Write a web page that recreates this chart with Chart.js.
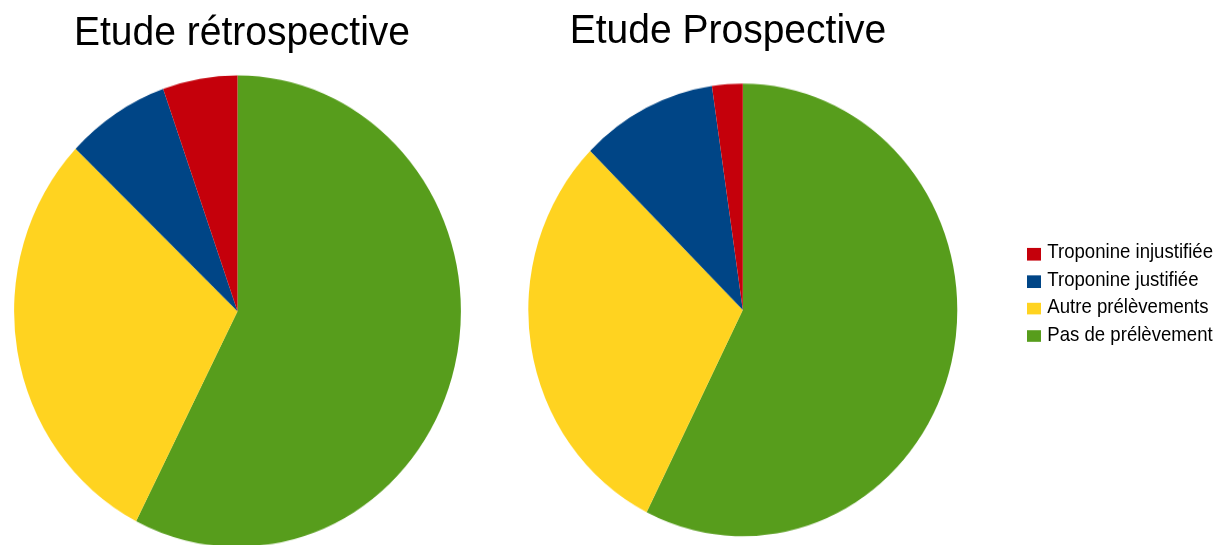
<!DOCTYPE html>
<html lang="fr">
<head>
<meta charset="utf-8">
<title>Etude rétrospective / Etude Prospective</title>
<script src="https://cdn.jsdelivr.net/npm/chart.js@4/dist/chart.umd.min.js"></script>
<style>
    html, body { margin: 0; padding: 0; background: #fff; overflow: hidden; }
    #page {
        position: absolute; left: 0; top: 0; width: 1228px; height: 540px;
        transform: scaleY(1.055); transform-origin: 0 0;
        font-family: "Liberation Sans", Arial, sans-serif; color: #000;
    }
    .title { position: absolute; font-size: 39px; line-height: 39px; text-align: center; white-space: nowrap; }
    canvas { position: absolute; top: 0; }
    #legend { position: absolute; left: 1026.5px; top: 0; }
    .item { position: absolute; left: 0; white-space: nowrap; font-size: 18.6px; line-height: 18.6px; }
    .item .box { position: absolute; left: 0; width: 14px; height: 11.5px; }
    .item .txt { position: absolute; left: 20.8px; top: 0; }
</style>
</head>
<body>
<div id="page">
    <div class="title" style="left:0; width:484px; top:10.3px;">Etude rétrospective</div>
    <div class="title" style="left:528px; width:400px; top:8px;">Etude Prospective</div>
    <canvas id="retroChart" width="475" height="540" style="left:0;"></canvas>
    <canvas id="prospChart" width="446" height="540" style="left:520px;"></canvas>
    <div id="legend"></div>
</div>
<script>
// slices go clockwise from 12 o'clock in this order
const categories = ['Pas de prélèvement', 'Autre prélèvements', 'Troponine justifiée', 'Troponine injustifiée'];
const sliceColors = ['#579d1c', '#ffd320', '#004586', '#c5000b'];

// share of patients (%)
const retroValues = [57.5, 29.6, 7.5, 5.4];
const prospValues = [57.4, 30.0, 10.3, 2.3];

function makePie(id, values, padding) {
    const ctx = document.getElementById(id).getContext('2d');
    return new Chart(ctx, {
        type: 'pie',
        data: {
            labels: categories,
            datasets: [{ data: values, backgroundColor: sliceColors, borderWidth: 0, hoverOffset: 0 }]
        },
        options: {
            responsive: false,
            animation: false,
            layout: { padding: padding },
            plugins: { legend: { display: false }, title: { display: false } }
        }
    });
}

makePie('retroChart', retroValues, { left: 14.1, right: 14.1, top: 71.5, bottom: 21.7 });
makePie('prospChart', prospValues, { left: 8.3, right: 8.7, top: 79.3, bottom: 31.7 });

// legend lists the categories bottom-up (last slice first)
const legendEl = document.getElementById('legend');
const rowStep = 25.9;
categories.slice().reverse().forEach((label, i) => {
    const color = sliceColors[categories.length - 1 - i];
    const item = document.createElement('div');
    item.className = 'item';
    item.style.top = (229.8 + rowStep * i) + 'px';
    item.innerHTML = `<span class="box" style="top:5.4px; background:${color};"></span><span class="txt">${label}</span>`;
    legendEl.appendChild(item);
});
</script>
</body>
</html>
